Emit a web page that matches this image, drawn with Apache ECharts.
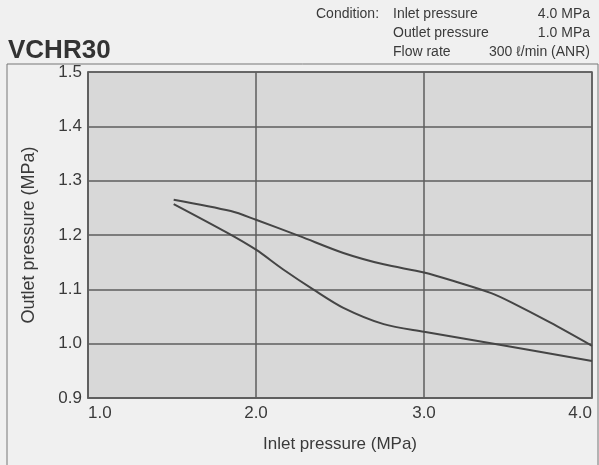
<!DOCTYPE html>
<html>
<head>
<meta charset="utf-8">
<script src="https://cdn.jsdelivr.net/npm/echarts@6/dist/echarts.min.js"></script>
<style>
  html, body { margin: 0; padding: 0; background: #f0f0f0; }
  #chart { width: 599px; height: 465px; }
</style>
</head>
<body>
<div id="chart"></div>
<script>
// readings
const inletUpper = [1.51, 1.85, 2.0, 2.26, 2.52, 2.76, 3.0, 3.2, 3.4, 3.52, 3.75, 4.0]
const outletUpper = [1.265, 1.244, 1.228, 1.198, 1.167, 1.146, 1.131, 1.113, 1.093, 1.076, 1.039, 0.996]

// readings
const inletLower = [1.51, 1.83, 2.0, 2.16, 2.34, 2.52, 2.76, 3.0, 3.45, 4.0]
const outletLower = [1.257, 1.204, 1.173, 1.137, 1.1, 1.066, 1.036, 1.022, 0.998, 0.968]

const conditionLabels = ['Inlet pressure', 'Outlet pressure', 'Flow rate']
const conditionValues = ['4.0 MPa', '1.0 MPa', '300 ℓ/min (ANR)']

const font = '"Liberation Sans", Arial, sans-serif'
const ink = '#3a3a3a'
const gridColor = '#5e5e5e'

const chart = echarts.init(document.getElementById('chart'))

const pairs = (xs, ys) => xs.map((x, i) => [x, ys[i]])

// header texts
const header = [
  { type: 'text', left: 316, top: 7, style: { text: 'Condition:', font: '14px ' + font, fill: ink } }
]
conditionLabels.forEach((t, i) => {
  header.push({ type: 'text', left: 393, top: 7 + i * 19, style: { text: t, font: '14px ' + font, fill: ink } })
  header.push({ type: 'text', right: 9, top: 7 + i * 19, style: { text: conditionValues[i], font: '14px ' + font, fill: ink } })
})

chart.setOption({
  backgroundColor: '#f0f0f0',
  animation: false,
  title: {
    text: 'VCHR30',
    left: 3,
    top: 33,
    textStyle: { fontFamily: font, fontSize: 26, fontWeight: 'bold', color: '#333' }
  },
  graphic: [
    {
      type: 'rect',
      shape: { x: 7, y: 64, width: 591, height: 420 },
      style: { fill: 'none', stroke: '#777', lineWidth: 1 },
      z: -1
    },
    ...header
  ],
  grid: {
    left: 88,
    right: 7,
    top: 72,
    bottom: 67,
    show: true,
    backgroundColor: '#d8d8d8',
    borderColor: gridColor,
    borderWidth: 1.5
  },
  xAxis: {
    type: 'value',
    min: 1,
    max: 4,
    interval: 1,
    name: 'Inlet pressure (MPa)',
    nameLocation: 'middle',
    nameGap: 38,
    nameTextStyle: { fontFamily: font, fontSize: 17, color: ink },
    axisLine: { lineStyle: { color: gridColor, width: 1.5 } },
    axisTick: { show: false },
    axisLabel: {
      fontFamily: font, fontSize: 17, color: ink, margin: 7,
      alignMinLabel: 'left', alignMaxLabel: 'right',
      formatter: v => v.toFixed(1)
    },
    splitLine: { lineStyle: { color: gridColor, width: 1.5 } }
  },
  yAxis: {
    type: 'value',
    min: 0.9,
    max: 1.5,
    interval: 0.1,
    name: 'Outlet pressure (MPa)',
    nameLocation: 'middle',
    nameGap: 50,
    nameTextStyle: { fontFamily: font, fontSize: 18, color: ink },
    axisLine: { lineStyle: { color: gridColor, width: 1.5 } },
    axisTick: { show: false },
    axisLabel: {
      fontFamily: font, fontSize: 17, color: ink, margin: 6,
      padding: [3, 0, 0, 0],
      formatter: v => v.toFixed(1)
    },
    splitLine: { lineStyle: { color: gridColor, width: 1.5 } }
  },
  series: [
    {
      type: 'line',
      data: pairs(inletUpper, outletUpper),
      smooth: 0.3,
      symbol: 'none',
      lineStyle: { color: '#454545', width: 2 }
    },
    {
      type: 'line',
      data: pairs(inletLower, outletLower),
      smooth: 0.3,
      symbol: 'none',
      lineStyle: { color: '#454545', width: 2 }
    }
  ]
})

window.addEventListener('resize', () => {
  chart.resize()
})
</script>
</body>
</html>
